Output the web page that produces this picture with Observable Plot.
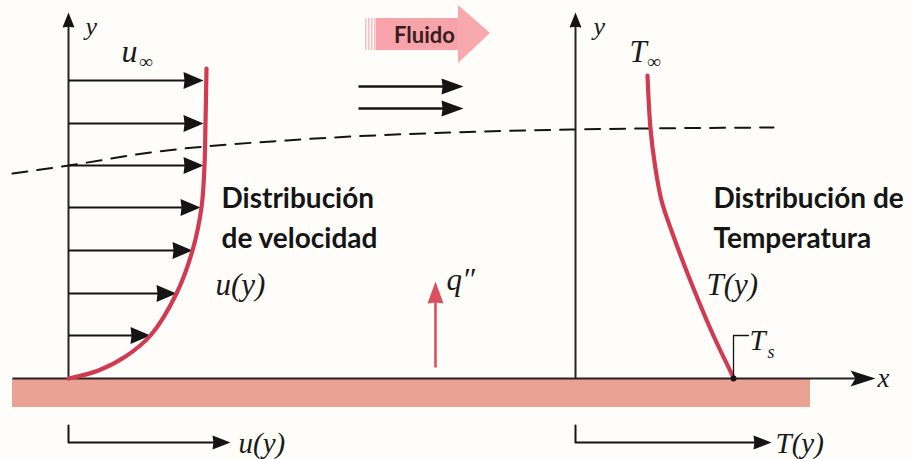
<!DOCTYPE html>
<html>
<head>
<meta charset="utf-8">
<script src="https://cdn.jsdelivr.net/npm/d3@7"></script>
<script src="https://cdn.jsdelivr.net/npm/@observablehq/plot@0.6"></script>
<style>
  html, body { margin: 0; padding: 0; background: #fefdfa; }
  #chart svg { display: block; }
</style>
</head>
<body>
<div id="chart"></div>
<script>
// Diagram coordinates: x = horizontal position, h = height above the wall surface.
// Velocity profile: heights of the arrows and their tip positions
const velArrowH   = [298, 255, 213, 171, 128, 85, 43];
const velArrowTip = [203, 203, 203, 200, 192, 176, 150];
const velAxisX = 68;

// Velocity profile curve u(y)
const velCurveX = [68, 98, 125, 150, 176, 192, 201, 204, 205, 206];
const velCurveH = [0, 8, 22, 43, 85, 128, 171, 213, 255, 310];

// Temperature profile curve T(y)
const tempAxisX = 575;
const tempCurveX = [733, 712, 691, 672, 661, 654.5, 650, 647];
const tempCurveH = [1, 45, 95, 145, 178, 213, 250, 303];

// Boundary layer edge (dashed)
const blX = [12, 68, 150, 300, 450, 573, 773];
const blH = [205, 213, 226, 239, 246, 249, 251];

// Free-stream arrows
const flowArrowH = [292, 270];
const flowArrowX = [358, 463];

// Heat flux arrow q''
const qX = 435, qH = [11, 97];

// Wall (plate)
const plateX = [12, 810], plateH = [0, -29];

// Labels
const labels = [
  {t: "Distribución", x: 221, h: 179},
  {t: "de velocidad", x: 221, h: 139},
  {t: "Distribución de", x: 713, h: 179},
  {t: "Temperatura", x: 713, h: 139}
];
const mathLabels = [
  {t: "y", x: 85, h: 352, s: 26},
  {t: "y", x: 593, h: 352, s: 26},
  {t: "u", x: 121, h: 327, s: 32},
  {t: "T", x: 629, h: 326, s: 31},
  {t: "u(y)", x: 215, h: 93, s: 31},
  {t: "T(y)", x: 706, h: 93, s: 31},
  {t: "q\u2033", x: 446, h: 98, s: 31},
  {t: "T", x: 749, h: 38, s: 29},
  {t: "x", x: 877, h: 0, s: 27},
  {t: "u(y)", x: 238, h: -65, s: 29},
  {t: "T(y)", x: 775, h: -65, s: 29}
];
const subLabels = [
  {t: "\u221e", x: 139, h: 317, s: 19},
  {t: "\u221e", x: 647, h: 317, s: 19},
  {t: "s", x: 767, h: 26, s: 18}
];

// Arrowhead symbol: tip at the origin, pointing to +x; fixed length L and width W
const head = (L, W, notch) => ({
  draw(ctx) {
    ctx.moveTo(0, 0);
    ctx.lineTo(-L, -W / 2);
    ctx.lineTo(-L * (1 - notch), 0);
    ctx.lineTo(-L, W / 2);
    ctx.closePath();
  }
});

const velArrows = velArrowH.map((h, i) => ({h, tip: velArrowTip[i]}));
const velCurve = velCurveX.map((x, i) => ({x, h: velCurveH[i]}));
const tempCurve = tempCurveX.map((x, i) => ({x, h: tempCurveH[i]}));
const bl = blX.map((x, i) => ({x, h: blH[i]}));
const flowArrows = flowArrowH.map(h => ({h, x1: flowArrowX[0], x2: flowArrowX[1]}));

const vAxes = [
  {x: velAxisX, h1: 0, h2: 366},
  {x: tempAxisX, h1: 0, h2: 366}
];
const xAxis = [{x1: 12, x2: 875, h: 0}];
const bottomL = [
  {x0: velAxisX, xEnd: 230},
  {x0: tempAxisX, xEnd: 771}
];
const plate = [{x1: plateX[0], x2: plateX[1], h1: plateH[1], h2: plateH[0]}];
const fluidoBody = [{x1: 376, x2: 459, h1: 328, h2: 360}];
const fluidoStripes = [365, 368, 371, 374].map(x => ({x1: x, x2: x + 1.6, h1: 328, h2: 360}));
const fluidoHead = [{x: 458, a: 373, b: 315}, {x: 490, a: 345, b: 345}];

const ink = "#141414";
const red = "#d03b52";

const chart = Plot.plot({
  width: 912,
  height: 459,
  margin: 0,
  x: {domain: [0, 912], axis: null},
  y: {domain: [-81, 378], axis: null},
  style: {background: "#fefdfa", overflow: "visible"},
  marks: [
    // Plate
    Plot.rect(plate, {x1: "x1", x2: "x2", y1: "h1", y2: "h2", fill: "#eaa293"}),
    // Fluido block arrow
    Plot.rect(fluidoBody, {x1: "x1", x2: "x2", y1: "h1", y2: "h2", fill: "#f7a3aa"}),
    Plot.rect(fluidoStripes, {x1: "x1", x2: "x2", y1: "h1", y2: "h2", fill: "#f9c0c4"}),
    Plot.areaY(fluidoHead, {x: "x", y1: "a", y2: "b", fill: "#f7a9ae"}),
    Plot.text([{t: "Fluido", x: 424, h: 343}], {x: "x", y: "h", text: "t", fontFamily: "Lato", fontWeight: "bold", fontSize: 22, fill: "#3b1c20", textAnchor: "middle", lineAnchor: "middle"}),
    // Boundary layer edge
    Plot.line(bl, {x: "x", y: "h", curve: "monotone-x", stroke: ink, strokeWidth: 2, strokeDasharray: "15,10"}),
    // Vertical axes
    Plot.link(vAxes, {x1: "x", y1: "h1", x2: "x", y2: d => d.h2 - 9, stroke: "#2a2222", strokeWidth: 2}),
    Plot.dot(vAxes, {x: "x", y: "h2", r: 1, rotate: -90, symbol: head(15, 12, 0.05), fill: ink, stroke: "none"}),
    // x axis
    Plot.link(xAxis, {x1: "x1", y1: "h", x2: d => d.x2 - 14, y2: "h", stroke: "#2a2222", strokeWidth: 2}),
    Plot.dot(xAxis, {x: "x2", y: "h", r: 1, symbol: head(25, 16, 0.2), fill: ink, stroke: "none"}),
    // Velocity arrows
    Plot.link(velArrows, {x1: velAxisX, y1: "h", x2: d => d.tip - 10, y2: "h", stroke: ink, strokeWidth: 2}),
    Plot.dot(velArrows, {x: "tip", y: "h", r: 1, symbol: head(20, 17, 0.05), fill: ink, stroke: "none"}),
    // Free-stream arrows
    Plot.link(flowArrows, {x1: "x1", y1: "h", x2: d => d.x2 - 10, y2: "h", stroke: ink, strokeWidth: 2.4}),
    Plot.dot(flowArrows, {x: "x2", y: "h", r: 1, symbol: head(22, 16, 0.05), fill: ink, stroke: "none"}),
    // Velocity profile
    Plot.line(velCurve, {x: "x", y: "h", curve: "catmull-rom", stroke: red, strokeWidth: 4.2, strokeLinecap: "round"}),
    // Temperature profile
    Plot.line(tempCurve, {x: "x", y: "h", curve: "catmull-rom", stroke: red, strokeWidth: 4.2, strokeLinecap: "round"}),
    // Heat flux arrow
    Plot.link([{x: qX, h1: qH[0], h2: qH[1]}], {x1: "x", y1: "h1", x2: "x", y2: d => d.h2 - 12, stroke: "#d9505f", strokeWidth: 2.6}),
    Plot.dot([{x: qX, h: qH[1]}], {x: "x", y: "h", r: 1, rotate: -90, symbol: head(22, 16, 0.05), fill: "#d9505f", stroke: "none"}),
    // Ts leader and point
    Plot.line([{x: tempCurveX[0], h: 0}, {x: tempCurveX[0], h: 43}, {x: tempCurveX[0] + 15, h: 43}], {x: "x", y: "h", stroke: ink, strokeWidth: 1.3}),
    Plot.dot([{x: tempCurveX[0], h: 0}], {x: "x", y: "h", r: 3, fill: ink, stroke: "none"}),
    // Bottom L-arrows
    Plot.line(bottomL.flatMap((d, i) => [
      {x: d.x0, h: -47, g: i}, {x: d.x0, h: -64, g: i}, {x: d.xEnd - 10, h: -64, g: i}
    ]), {x: "x", y: "h", z: "g", stroke: ink, strokeWidth: 2}),
    Plot.dot(bottomL.map(d => ({x: d.xEnd, h: -64})), {x: "x", y: "h", r: 1, symbol: head(18, 14, 0.05), fill: ink, stroke: "none"}),
    // Text labels
    Plot.text(labels, {x: "x", y: "h", text: "t", fontFamily: "Lato", fontWeight: "bold", fontSize: 28, fill: "#151515", textAnchor: "start", lineAnchor: "middle"}),
    Plot.text(mathLabels, {x: "x", y: "h", text: "t", fontFamily: "Liberation Serif", fontStyle: "italic", fontSize: d => d.s, fill: "#1a1a1a", textAnchor: "start", lineAnchor: "middle"}),
    Plot.text(subLabels, {x: "x", y: "h", text: "t", fontFamily: "Liberation Serif", fontStyle: "italic", fontSize: d => d.s, fill: "#1a1a1a", textAnchor: "start", lineAnchor: "middle"})
  ]
});
document.getElementById("chart").appendChild(chart);
</script>
</body>
</html>
